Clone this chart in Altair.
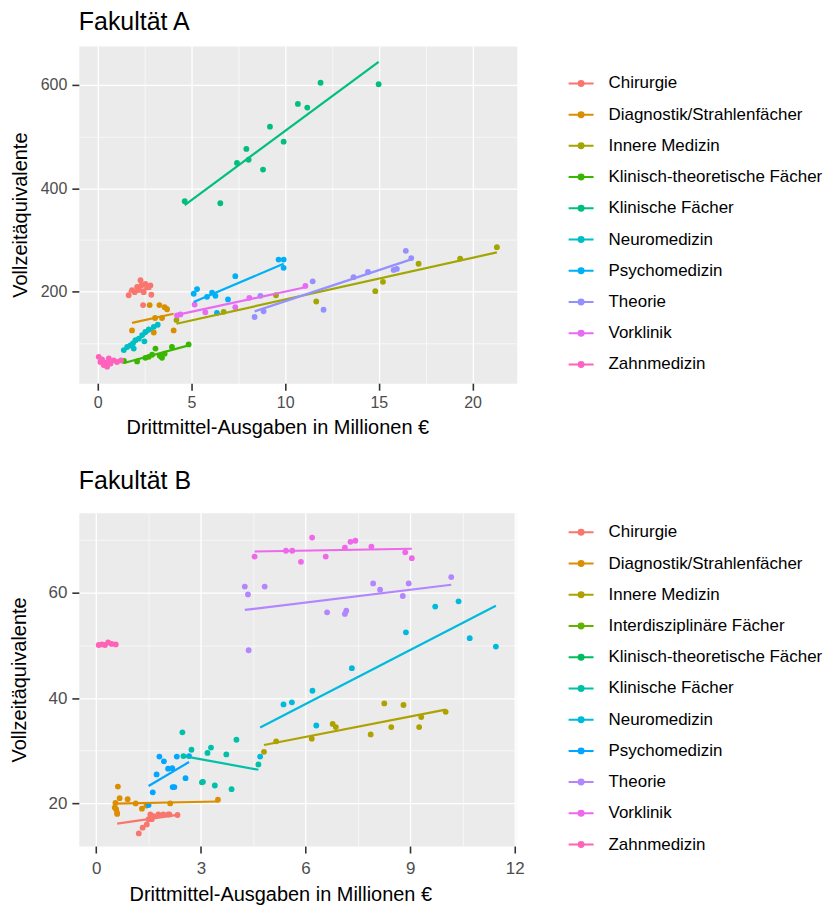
import altair as alt
import pandas as pd

FONT = "Liberation Sans"

# ---------------- Fakultät A ----------------
A_cats = ["Chirurgie", "Diagnostik/Strahlenfächer", "Innere Medizin",
          "Klinisch-theoretische Fächer", "Klinische Fächer", "Neuromedizin",
          "Psychomedizin", "Theorie", "Vorklinik", "Zahnmedizin"]
A_colors = ["#F8766D", "#D89000", "#A3A500", "#39B600", "#00BF7D",
            "#00BFC4", "#00B0F6", "#9590FF", "#E76BF3", "#FF62BC"]

A_chirurgie_x = [1.65, 1.83, 1.97, 2.10, 2.19, 2.28, 2.33, 2.42, 2.45, 2.54, 2.63, 2.81, 2.86]
A_chirurgie_y = [193, 203, 199, 209, 203, 222, 212, 174, 199, 215, 209, 212, 194]
A_diagnostik_x = [1.83, 2.77, 2.99, 3.06, 3.29, 3.43, 3.57, 3.70, 4.05]
A_diagnostik_y = [125, 174, 121, 149, 174, 149, 170, 166, 125]
A_innere_x = [4.20, 6.72, 9.51, 11.66, 14.81, 15.22, 17.12, 19.34, 21.30]
A_innere_y = [145, 161, 193, 181, 201, 219, 254, 264, 286]
A_klinth_x = [1.40, 2.10, 2.54, 2.72, 2.90, 3.08, 3.31, 3.43, 3.57, 3.96, 4.85]
A_klinth_y = [66, 65, 72, 74, 78, 90, 76, 72, 80, 93, 98]
A_klinisch_x = [4.64, 6.54, 7.43, 7.93, 8.05, 8.82, 9.19, 9.92, 10.68, 11.18, 11.89, 14.99]
A_klinisch_y = [375, 371, 449, 476, 455, 436, 519, 490, 563, 556, 604, 601]
A_neuro_x = [1.39, 1.57, 1.74, 1.88, 1.92, 2.01, 2.19, 2.37, 2.49, 2.54, 2.72, 2.99, 3.20]
A_neuro_y = [87, 93, 96, 100, 90, 106, 109, 116, 104, 122, 127, 132, 136]
A_psycho_x = [5.12, 5.30, 5.83, 6.10, 6.28, 6.36, 6.95, 7.34, 9.65, 9.92, 9.92]
A_psycho_y = [196, 205, 190, 198, 192, 159, 185, 230, 262, 262, 246]
A_theorie_x = [8.37, 8.68, 8.85, 11.47, 12.05, 13.65, 14.42, 15.79, 15.96, 16.44, 16.73]
A_theorie_y = [151, 192, 162, 220, 165, 228, 238, 242, 244, 279, 265]
A_vorklinik_x = [4.23, 4.41, 5.17, 5.74, 7.34, 8.09, 11.08]
A_vorklinik_y = [154, 156, 175, 160, 170, 188, 211]
A_zahn_x = [0.05, 0.14, 0.23, 0.32, 0.46, 0.50, 0.59, 0.68, 0.85, 1.03, 1.24]
A_zahn_y = [74, 64, 69, 58, 63, 55, 71, 61, 67, 64, 67]

# ---------------- Fakultät B ----------------
B_cats = ["Chirurgie", "Diagnostik/Strahlenfächer", "Innere Medizin",
          "Interdisziplinäre Fächer", "Klinisch-theoretische Fächer",
          "Klinische Fächer", "Neuromedizin", "Psychomedizin", "Theorie",
          "Vorklinik", "Zahnmedizin"]
B_colors = ["#F8766D", "#DB8E00", "#AEA200", "#64B200", "#00BD5C", "#00C1A7",
            "#00BADE", "#00A6FF", "#B385FF", "#EF67EB", "#FF63B6"]

B_chirurgie_x = [0.60, 1.22, 1.33, 1.45, 1.50, 1.55, 1.59, 1.64, 1.78, 1.92, 2.06, 2.10, 2.33]
B_chirurgie_y = [18.2, 14.3, 15.4, 16.0, 17.0, 17.9, 17.0, 17.6, 17.9, 17.9, 17.9, 17.9, 17.8]
B_diagnostik_x = [0.53, 0.55, 0.57, 0.60, 0.62, 0.67, 0.90, 1.13, 1.31, 1.44, 2.12, 3.49]
B_diagnostik_y = [19.2, 20.1, 18.9, 18.0, 23.2, 21.0, 20.8, 20.0, 19.0, 19.6, 20.0, 20.7]
B_innere_x = [4.81, 5.16, 6.18, 6.78, 6.87, 7.87, 8.26, 8.46, 8.81, 9.26, 9.32, 10.02]
B_innere_y = [29.8, 31.8, 32.3, 35.1, 34.5, 33.1, 39.0, 34.5, 38.7, 34.5, 36.4, 37.4]
B_klinisch_x = [2.47, 2.50, 2.73, 3.03, 3.06, 3.19, 3.29, 3.40, 3.73, 3.88, 4.02, 4.65]
B_klinisch_y = [33.5, 29.0, 30.2, 24.0, 24.1, 29.6, 30.6, 23.4, 29.3, 22.7, 32.1, 27.4]
B_neuro_x = [4.70, 5.37, 5.61, 6.20, 6.31, 7.33, 8.88, 9.72, 10.39, 10.71, 11.46]
B_neuro_y = [28.9, 38.8, 39.2, 41.4, 34.8, 45.7, 52.5, 57.4, 58.4, 51.4, 49.8]
B_psycho_x = [1.50, 1.62, 1.73, 1.81, 1.94, 2.06, 2.18, 2.19, 2.24, 2.31, 2.56, 2.66]
B_psycho_y = [19.7, 22.1, 25.5, 28.9, 28.0, 26.6, 26.7, 23.1, 23.1, 28.9, 24.8, 29.0]
B_theorie_x = [4.26, 4.35, 4.37, 4.83, 6.62, 7.13, 7.17, 7.94, 8.14, 8.79, 8.96, 10.18]
B_theorie_y = [61.2, 59.7, 49.1, 61.2, 56.3, 56.0, 56.6, 61.8, 60.6, 59.4, 61.8, 63.0]
B_vorklinik_x = [4.54, 5.44, 5.62, 5.87, 6.19, 6.58, 7.13, 7.29, 7.43, 7.89, 8.86, 9.05]
B_vorklinik_y = [66.9, 68.0, 68.0, 65.9, 70.5, 66.9, 68.6, 69.7, 69.9, 68.8, 67.7, 66.6]
B_zahn_x = [0.07, 0.16, 0.25, 0.34, 0.44, 0.56]
B_zahn_y = [50.1, 50.2, 50.1, 50.6, 50.3, 50.2]

X_TITLE = "Drittmittel-Ausgaben in Millionen €"
Y_TITLE = "Vollzeitäquivalente"


def frame(groups):
    rows = []
    for cat, xs, ys in groups:
        for xv, yv in zip(xs, ys):
            rows.append({"cat": cat, "x": xv, "y": yv})
    return pd.DataFrame(rows)


dfA = frame([
    ("Chirurgie", A_chirurgie_x, A_chirurgie_y),
    ("Diagnostik/Strahlenfächer", A_diagnostik_x, A_diagnostik_y),
    ("Innere Medizin", A_innere_x, A_innere_y),
    ("Klinisch-theoretische Fächer", A_klinth_x, A_klinth_y),
    ("Klinische Fächer", A_klinisch_x, A_klinisch_y),
    ("Neuromedizin", A_neuro_x, A_neuro_y),
    ("Psychomedizin", A_psycho_x, A_psycho_y),
    ("Theorie", A_theorie_x, A_theorie_y),
    ("Vorklinik", A_vorklinik_x, A_vorklinik_y),
    ("Zahnmedizin", A_zahn_x, A_zahn_y),
])
dfB = frame([
    ("Chirurgie", B_chirurgie_x, B_chirurgie_y),
    ("Diagnostik/Strahlenfächer", B_diagnostik_x, B_diagnostik_y),
    ("Innere Medizin", B_innere_x, B_innere_y),
    ("Klinische Fächer", B_klinisch_x, B_klinisch_y),
    ("Neuromedizin", B_neuro_x, B_neuro_y),
    ("Psychomedizin", B_psycho_x, B_psycho_y),
    ("Theorie", B_theorie_x, B_theorie_y),
    ("Vorklinik", B_vorklinik_x, B_vorklinik_y),
    ("Zahnmedizin", B_zahn_x, B_zahn_y),
])

KEY_PATH = "M-1,0L1,0M0.2,0A0.2,0.2,0,1,1,-0.2,0A0.2,0.2,0,1,1,0.2,0Z"


def cond(step, major, minor):
    return {"condition": {"test": f"abs(datum.value % {step}) < 1e-6", "value": major},
            "value": minor}


def panel(df, cats, colors, title, xdom, ydom, xvals, xstep, yvals, ystep,
          w, h, lx, ly, title_x, tick_font, title_offset, ytitle_pad,
          xlabel_pad, xtitle_pad):
    xaxis = alt.Axis(values=xvals, title=X_TITLE, titleX=title_x,
                     labelExpr=f"abs(datum.value % {xstep}) < 1e-6 ? datum.label : ''",
                     gridColor="white", gridWidth=cond(xstep, 1.3, 0.6),
                     tickOpacity=cond(xstep, 1, 0), tickColor="#333333",
                     tickWidth=1.6, tickSize=7, domain=False,
                     labelFontSize=tick_font, labelColor="#4D4D4D",
                     labelPadding=xlabel_pad,
                     titleFontSize=20, titleFontWeight="normal", titleColor="black",
                     titlePadding=xtitle_pad)
    yaxis = alt.Axis(values=yvals, title=Y_TITLE,
                     labelExpr=f"abs(datum.value % {ystep}) < 1e-6 ? datum.label : ''",
                     gridColor="white", gridWidth=cond(ystep, 1.3, 0.6),
                     tickOpacity=cond(ystep, 1, 0), tickColor="#333333",
                     tickWidth=1.6, tickSize=7, domain=False,
                     labelFontSize=tick_font, labelColor="#4D4D4D", labelPadding=5,
                     titleFontSize=20, titleFontWeight="normal", titleColor="black",
                     titlePadding=ytitle_pad)
    legend = alt.Legend(title=None, orient="none", legendX=lx, legendY=ly,
                        direction="vertical", symbolType=KEY_PATH, symbolSize=625,
                        symbolStrokeWidth=2, labelFontSize=17, labelLimit=400,
                        labelOffset=14, rowPadding=9.3, labelColor="black",
                        labelFont=FONT)
    base = alt.Chart(df).encode(
        x=alt.X("x:Q", scale=alt.Scale(domain=xdom, nice=False, zero=False), axis=xaxis),
        y=alt.Y("y:Q", scale=alt.Scale(domain=ydom, nice=False, zero=False), axis=yaxis),
        color=alt.Color("cat:N", scale=alt.Scale(domain=cats, range=colors), legend=legend),
    )
    pts = base.mark_circle(size=34, opacity=1)
    lines = base.transform_regression("x", "y", groupby=["cat"]).mark_line(strokeWidth=2.2)
    return alt.layer(pts, lines).properties(
        width=w, height=h,
        title=alt.TitleParams(title, anchor="start", frame="group", fontSize=25,
                              fontWeight="normal", font=FONT, color="black",
                              offset=title_offset),
    )


top = panel(dfA, A_cats, A_colors, "Fakultät A", [-1.01, 22.36], [23, 675],
            [0, 2.5, 5, 7.5, 10, 12.5, 15, 17.5, 20], 5,
            [100, 200, 300, 400, 500, 600], 200,
            439, 338, 490, 24, 199, 16, 11, 10, 4, 7)
bottom = panel(dfB, B_cats, B_colors, "Fakultät B", [-0.5, 12.03], [11.9, 75.2],
               [0, 1.5, 3, 4.5, 6, 7.5, 9, 10.5, 12], 3,
               [20, 30, 40, 50, 60, 70], 20,
               438, 334, 490, 6, 202, 17, 19, 19, 8, 8)

chart = alt.ConcatChart(concat=[top, bottom], columns=1, align="none", spacing=30,
                        bounds="full").resolve_scale(color="independent").properties(
    padding={"left": 0, "top": 0, "right": 0, "bottom": 0}
).configure_view(fill="#EBEBEB", stroke="transparent").configure_axis(
    labelFont=FONT, titleFont=FONT
).configure_legend(labelFont=FONT)

chart.save("out.html", embed_options={"renderer": "svg", "actions": False})
